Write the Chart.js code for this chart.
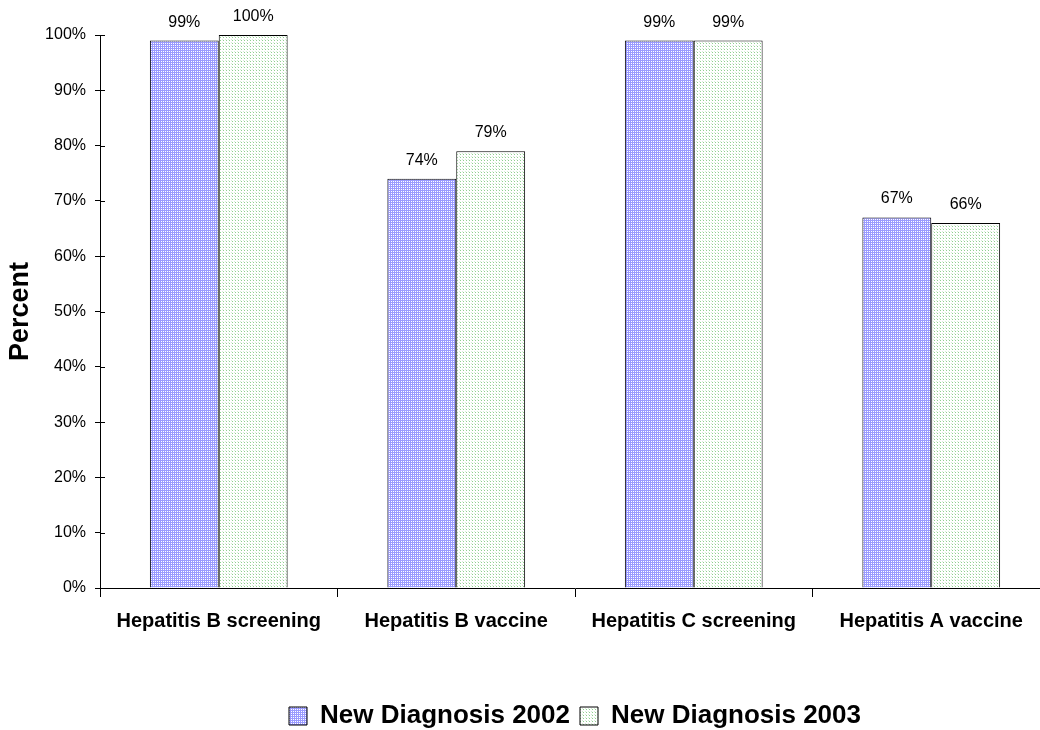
<!DOCTYPE html>
<html>
<head>
<meta charset="utf-8">
<script src="https://cdn.jsdelivr.net/npm/chart.js@4/dist/chart.umd.min.js"></script>
<style>
html, body { margin: 0; padding: 0; overflow: hidden; background: #fff; width: 1040px; height: 730px; }
canvas { display: block; }
</style>
</head>
<body>
<canvas id="c" width="1050" height="739" style="width:1050px;height:739px"></canvas>
<script>
const categories = ['Hepatitis B screening', 'Hepatitis B vaccine', 'Hepatitis C screening', 'Hepatitis A vaccine'];
const seriesNames = ['New Diagnosis 2002', 'New Diagnosis 2003'];
const values2002 = [99, 74, 99, 67];
const values2003 = [100, 79, 99, 66];
const yTicks = [0, 10, 20, 30, 40, 50, 60, 70, 80, 90, 100];

const FONT = '"Liberation Sans", Arial, sans-serif';

function makePattern(kind) {
  const t = document.createElement('canvas');
  const g = t.getContext('2d');
  if (kind === 'grid') {
    t.width = 2; t.height = 2;
    g.fillStyle = '#ffffff'; g.fillRect(0, 0, 2, 2);
    g.fillStyle = '#9a9aff';
    g.fillRect(0, 0, 2, 1);
    g.fillRect(0, 0, 1, 2);
  } else {
    t.width = 3; t.height = 3;
    g.fillStyle = '#ffffff'; g.fillRect(0, 0, 3, 3);
    g.fillStyle = '#8fcf8f';
    g.fillRect(1, 1, 1, 1);
    g.fillStyle = '#d6eed6';
    g.fillRect(0, 0, 1, 1);
  }
  return document.getElementById('c').getContext('2d').createPattern(t, 'repeat');
}

const valueLabels = {
  id: 'valueLabels',
  afterDatasetsDraw(chart) {
    const ctx = chart.ctx;
    ctx.save();
    ctx.font = '16px ' + FONT;
    ctx.fillStyle = '#000';
    ctx.textAlign = 'center';
    ctx.textBaseline = 'alphabetic';
    chart.data.datasets.forEach((ds, i) => {
      chart.getDatasetMeta(i).data.forEach((bar, j) => {
        ctx.fillText(ds.data[j] + '%', bar.x, bar.y - 14);
      });
    });
    ctx.restore();
  }
};

const yAxisCross = {
  id: 'yAxisCross',
  afterDraw(chart) {
    const ctx = chart.ctx;
    const y = chart.scales.y;
    const left = chart.chartArea.left;
    ctx.save();
    ctx.strokeStyle = '#000';
    ctx.lineWidth = 1;
    ctx.beginPath();
    y.ticks.forEach(t => {
      const py = Math.round(y.getPixelForValue(t.value)) + 0.5;
      ctx.moveTo(left, py);
      ctx.lineTo(left + 5, py);
    });
    ctx.stroke();
    ctx.restore();
  }
};

new Chart(document.getElementById('c'), {
  type: 'bar',
  data: {
    labels: categories,
    datasets: [
      { label: seriesNames[0], data: values2002, backgroundColor: makePattern('grid'), borderColor: '#000', borderWidth: 1, borderSkipped: 'bottom' },
      { label: seriesNames[1], data: values2003, backgroundColor: makePattern('dots'), borderColor: '#000', borderWidth: 1, borderSkipped: 'bottom' }
    ]
  },
  options: {
    responsive: false,
    animation: false,
    devicePixelRatio: 1,
    layout: { padding: { top: 35, right: 0, left: 0, bottom: 0 } },
    datasets: { bar: { categoryPercentage: 0.58, barPercentage: 1.0 } },
    plugins: {
      tooltip: { enabled: false },
      legend: {
        position: 'bottom',
        fullSize: false,
        labels: {
          font: { family: FONT, size: 26, weight: 'bold' },
          color: '#000',
          boxWidth: 18,
          boxHeight: 18,
          padding: 10
        }
      }
    },
    scales: {
      x: {
        type: 'category',
        offset: true,
        grid: { offset: true, drawOnChartArea: false, tickLength: 9, color: '#000', tickColor: '#000' },
        border: { display: true, color: '#000', width: 1 },
        ticks: { font: { family: FONT, size: 20, weight: 'bold' }, color: '#000', padding: 12, maxRotation: 0, autoSkip: false },
        afterFit(scale) { scale.height = 105; }
      },
      y: {
        min: 0, max: 100,
        afterBuildTicks(scale) { scale.ticks = yTicks.map(v => ({ value: v })); },
        grid: { drawOnChartArea: false, tickLength: 5, color: '#000', tickColor: '#000' },
        border: { display: true, color: '#000', width: 1 },
        ticks: { font: { family: FONT, size: 16 }, color: '#000', padding: 9, callback: v => v + '%' },
        title: { display: true, text: 'Percent', font: { family: FONT, size: 27, weight: 'bold' }, color: '#000', padding: { top: 4, bottom: 0 } },
        afterFit(scale) { scale.width = 100; }
      }
    }
  },
  plugins: [valueLabels, yAxisCross]
});
</script>
</body>
</html>
